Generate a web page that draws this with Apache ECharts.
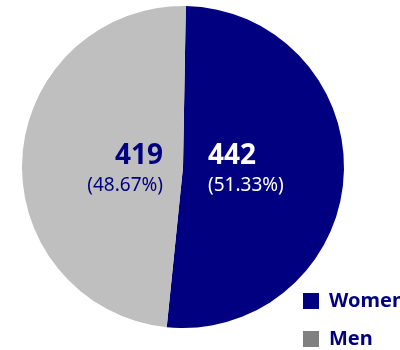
<!DOCTYPE html>
<html>
<head>
<meta charset="utf-8">
<style>
  html, body { margin: 0; padding: 0; background: #ffffff; }
  #chart { width: 400px; height: 350px; }
</style>
<script src="https://cdn.jsdelivr.net/npm/echarts@6/dist/echarts.min.js"></script>
</head>
<body>
<div id="chart"></div>
<script>
// Gender split
const categories = ['Women', 'Men'];
const counts = [442, 419];
const percentLabels = ['51.33%', '48.67%'];
const sliceColors = ['#000080', '#bfbfbf'];
const legendColors = ['#000080', '#808080'];

const FONT = 'Noto Sans';
const cx = 183, cy = 167, r = 161;

const chart = echarts.init(document.getElementById('chart'), null, { renderer: 'canvas' });

// value labels: Women to the right of the centre (white), Men to the left (navy)
const labelSpec = [
  { x: cx + 25, align: 'left', color: '#ffffff' },
  { x: cx - 20, align: 'right', color: '#000080' }
];
const graphics = [];
categories.forEach((name, i) => {
  const s = labelSpec[i];
  graphics.push({
    type: 'text', x: s.x, y: 156, z: 100, silent: true,
    style: { text: String(counts[i]), fill: s.color, fontFamily: FONT, fontWeight: 'bold', fontSize: 28, align: s.align, verticalAlign: 'middle' }
  });
  graphics.push({
    type: 'text', x: s.x, y: 186, z: 100, silent: true,
    style: { text: '(' + percentLabels[i] + ')', fill: s.color, fontFamily: FONT, fontSize: 19, align: s.align, verticalAlign: 'middle' }
  });
});

// one legend block per entry, stacked at the lower right
const legendTops = [291, 329];
const legends = categories.map((name, i) => ({
  orient: 'vertical',
  left: 303,
  top: legendTops[i],
  padding: 0,
  itemWidth: 16,
  itemHeight: 16,
  icon: 'rect',
  selectedMode: false,
  data: [{ name, itemStyle: { color: legendColors[i] } }],
  textStyle: { color: '#000080', fontFamily: FONT, fontWeight: 'bold', fontSize: 20, lineHeight: 16, padding: [0, 0, 0, 5] }
}));

chart.setOption({
  animation: false,
  legend: legends,
  series: [{
    type: 'pie',
    center: [cx, cy],
    radius: [0, r],
    startAngle: 89,
    clockwise: true,
    silent: true,
    label: { show: false },
    labelLine: { show: false },
    itemStyle: { borderWidth: 0 },
    data: categories.map((name, i) => ({ name, value: counts[i], itemStyle: { color: sliceColors[i] } }))
  }],
  graphic: { elements: graphics }
});
</script>
</body>
</html>
